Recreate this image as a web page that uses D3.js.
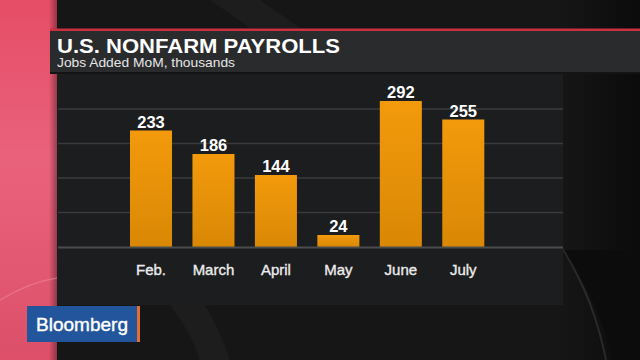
<!DOCTYPE html>
<html>
<head>
<meta charset="utf-8">
<script src="https://cdn.jsdelivr.net/npm/d3@7"></script>
<style>
  html, body { margin: 0; padding: 0; background: #151515; }
  svg { display: block; }
  text { font-family: 'Liberation Sans', Arial, Helvetica, sans-serif; }
</style>
</head>
<body>
<div id="chart"></div>
<script>
var width = 640;
var height = 360;

// chart data
var months = ['Feb.', 'March', 'April', 'May', 'June', 'July'];
var jobsAdded = [233, 186, 144, 24, 292, 255];
var gridValues = [69, 138, 207, 276];

var title = 'U.S. NONFARM PAYROLLS';
var subtitle = 'Jobs Added MoM, thousands';

var data = months.map(function (m, i) {
  return { label: m, value: jobsAdded[i] };
});

var svg = d3.select('#chart')
  .append('svg')
    .attr('width', width)
    .attr('height', height);

var defs = svg.append('defs');

var barGrad = defs.append('linearGradient')
  .attr('id', 'barGrad')
  .attr('x1', 0).attr('y1', 0).attr('x2', 0).attr('y2', 1);
barGrad.append('stop').attr('offset', '0%').attr('stop-color', '#f39a0c');
barGrad.append('stop').attr('offset', '100%').attr('stop-color', '#d98805');

var pinkGrad = defs.append('linearGradient')
  .attr('id', 'pinkGrad')
  .attr('x1', 0).attr('y1', 0).attr('x2', 0).attr('y2', 1);
pinkGrad.append('stop').attr('offset', '0%').attr('stop-color', '#e64d66');
pinkGrad.append('stop').attr('offset', '45%').attr('stop-color', '#e9627c');
pinkGrad.append('stop').attr('offset', '100%').attr('stop-color', '#dd4f68');

var edgeGrad = defs.append('linearGradient')
  .attr('id', 'edgeGrad')
  .attr('x1', 0).attr('y1', 0).attr('x2', 1).attr('y2', 0);
edgeGrad.append('stop').attr('offset', '0%').attr('stop-color', '#000').attr('stop-opacity', 0);
edgeGrad.append('stop').attr('offset', '100%').attr('stop-color', '#000').attr('stop-opacity', 0.35);

var rightGrad = defs.append('linearGradient')
  .attr('id', 'rightGrad')
  .attr('x1', 0).attr('y1', 0).attr('x2', 1).attr('y2', 0);
rightGrad.append('stop').attr('offset', '0%').attr('stop-color', '#161617');
rightGrad.append('stop').attr('offset', '100%').attr('stop-color', '#0b0b0b');

// background
svg.append('rect')
  .attr('width', width).attr('height', height)
  .attr('fill', '#161617');

svg.append('rect')
  .attr('x', 560).attr('width', 80).attr('height', height)
  .attr('fill', 'url(#rightGrad)');

// faint curved shapes in the backdrop
svg.append('path')
  .attr('d', 'M560,250 Q600,300 612,360 L640,360 L640,250 Z')
  .attr('fill', '#0c0c0c');
svg.append('path')
  .attr('d', 'M555,238 Q592,290 606,360')
  .attr('fill', 'none')
  .attr('stroke', '#3a3a3a')
  .attr('stroke-opacity', 0.6)
  .attr('stroke-width', 2);
svg.append('path')
  .attr('d', 'M170,305 Q190,330 200,360 L230,360 Q220,330 205,305 Z')
  .attr('fill', '#1d1d1e');
svg.append('path')
  .attr('d', 'M210,0 L250,28 L300,28 L260,0 Z')
  .attr('fill', '#1d1d1e');

// pink strip on the left
svg.append('rect')
  .attr('width', 57).attr('height', height)
  .attr('fill', 'url(#pinkGrad)');
svg.append('rect')
  .attr('x', 49).attr('width', 8).attr('height', height)
  .attr('fill', 'url(#edgeGrad)');
svg.append('path')
  .attr('d', 'M0,300 Q30,282 57,278')
  .attr('fill', 'none')
  .attr('stroke', '#f08ca0')
  .attr('stroke-opacity', 0.5)
  .attr('stroke-width', 1.5);

// chart panel
svg.append('rect')
  .attr('x', 57).attr('y', 73)
  .attr('width', 506).attr('height', 232)
  .attr('fill', '#1c1d1f');

// title panel
svg.append('rect')
  .attr('x', 50).attr('y', 31)
  .attr('width', 590).attr('height', 41)
  .attr('fill', '#2a2b2d');
svg.append('rect')
  .attr('x', 50).attr('y', 28.5)
  .attr('width', 590).attr('height', 2.5)
  .attr('fill', '#c93040');
svg.append('rect')
  .attr('x', 50).attr('y', 72)
  .attr('width', 590).attr('height', 2)
  .attr('fill', '#141415');

svg.append('text')
  .attr('x', 57).attr('y', 52.5)
  .attr('fill', '#ffffff')
  .attr('font-size', 21)
  .attr('font-weight', 'bold')
  .attr('textLength', 283)
  .attr('lengthAdjust', 'spacingAndGlyphs')
  .text(title);

svg.append('text')
  .attr('x', 57).attr('y', 67)
  .attr('fill', '#e6e6e6')
  .attr('font-size', 13.5)
  .attr('textLength', 178)
  .attr('lengthAdjust', 'spacingAndGlyphs')
  .text(subtitle);

// scales
var xScale = d3.scaleBand()
  .domain(months)
  .range([130, 484.3])
  .paddingInner(0.327)
  .paddingOuter(0);

var yScale = d3.scaleLinear()
  .domain([0, 300])
  .range([247, 97]);

// gridlines
svg.append('g')
  .attr('class', 'grid')
  .selectAll('line')
  .data(gridValues)
  .enter()
    .append('line')
    .attr('x1', 58).attr('x2', 563)
    .attr('y1', d => yScale(d)).attr('y2', d => yScale(d))
    .attr('stroke', '#3a3b3d')
    .attr('stroke-width', 1.5);

// bars
svg.append('g')
  .selectAll('rect')
  .data(data)
  .enter()
    .append('rect')
    .attr('x', d => xScale(d.label))
    .attr('y', d => yScale(d.value))
    .attr('width', xScale.bandwidth())
    .attr('height', d => yScale(0) - yScale(d.value))
    .attr('fill', 'url(#barGrad)');

// baseline
svg.append('line')
  .attr('x1', 58).attr('x2', 563)
  .attr('y1', yScale(0) + 0.5).attr('y2', yScale(0) + 0.5)
  .attr('stroke', '#4b4c4e')
  .attr('stroke-width', 2);

// value labels
svg.append('g')
  .selectAll('text')
  .data(data)
  .enter()
    .append('text')
    .attr('x', d => xScale(d.label) + xScale.bandwidth() / 2)
    .attr('y', d => yScale(d.value) - 3)
    .attr('text-anchor', 'middle')
    .attr('fill', '#ffffff')
    .attr('font-size', 16.5)
    .attr('font-weight', 'bold')
    .text(d => d.value);

// month axis
var xAxis = svg.append('g')
  .attr('transform', `translate(0, ${yScale(0)})`)
  .call(d3.axisBottom(xScale).tickSize(0).tickPadding(0));
xAxis.select('.domain').remove();
xAxis.selectAll('text')
  .attr('y', 28)
  .attr('dy', 0)
  .attr('fill', '#ececec')
  .attr('stroke', '#ececec')
  .attr('stroke-width', 0.35)
  .attr('font-size', 15)
  .attr('font-family', "'Liberation Sans', Arial, sans-serif");

// Bloomberg logo
svg.append('rect')
  .attr('x', 27).attr('y', 306)
  .attr('width', 110).attr('height', 36)
  .attr('fill', '#22559c');
svg.append('rect')
  .attr('x', 137).attr('y', 306)
  .attr('width', 3).attr('height', 36)
  .attr('fill', '#e2702a');
svg.append('text')
  .attr('x', 36).attr('y', 331)
  .attr('fill', '#ffffff')
  .attr('font-size', 19)
  .attr('stroke', '#ffffff')
  .attr('stroke-width', 0.4)
  .attr('textLength', 92)
  .attr('lengthAdjust', 'spacingAndGlyphs')
  .text('Bloomberg');
</script>
</body>
</html>
